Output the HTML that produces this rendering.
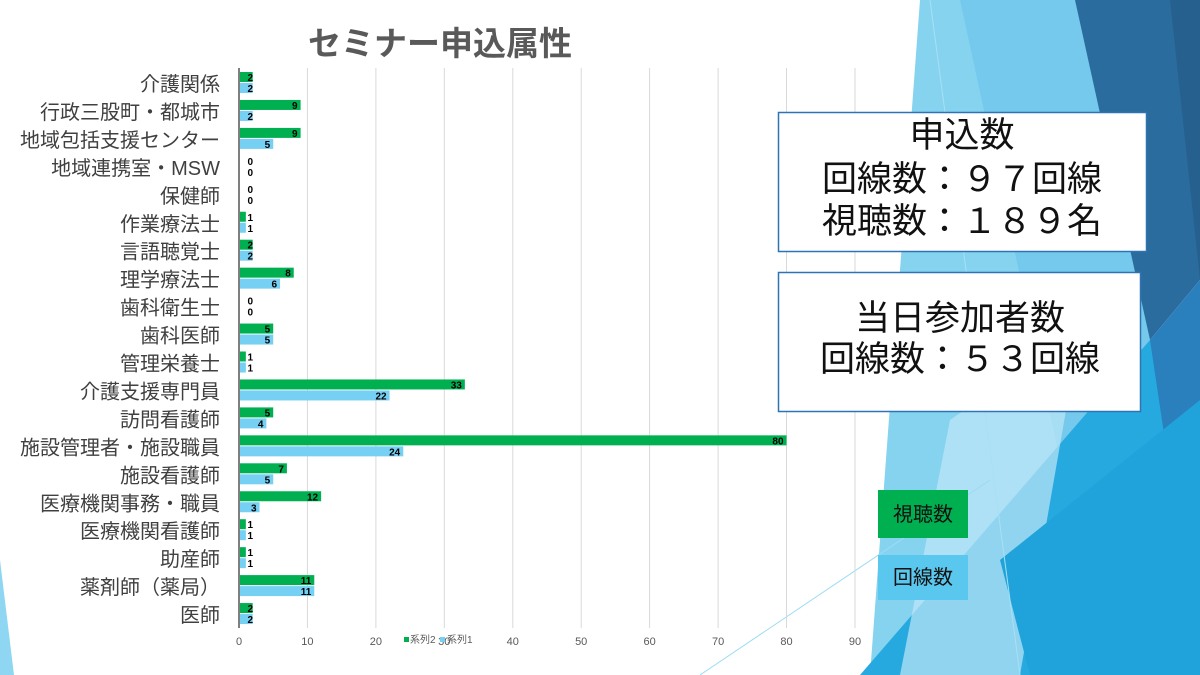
<!DOCTYPE html>
<html><head><meta charset="utf-8"><style>
body{margin:0;width:1200px;height:675px;overflow:hidden;background:#fff;font-family:"Liberation Sans","Noto Sans CJK JP",sans-serif}
</style></head><body>
<svg width="1200" height="675" xmlns="http://www.w3.org/2000/svg" style="position:absolute;left:0;top:0" font-family="Liberation Sans, Noto Sans CJK JP, sans-serif">
<polygon points="0,560 14,675 0,675" fill="#8fd6f2"/>
<polygon points="920,0 1080,0 1150,340 1010,675 870,675" fill="#86d3f0"/>
<polygon points="960,0 1080,0 1150,340 1060,460" fill="#74c9ec"/>
<polygon points="1075,0 1200,0 1200,280 1150,340" fill="#2b6c9f"/>
<polygon points="1170,0 1200,0 1200,280" fill="#26608f"/>
<polygon points="1150,340 1200,280 1200,675 1090,675" fill="#2a7fbd"/>
<polygon points="860,675 1150,340 1200,675" fill="#26a9df"/>
<polygon points="950,420 1080,330 1020,675 900,675" fill="#bfe7f7" opacity="0.7"/>
<polygon points="1000,560 1200,400 1200,675 1030,675" fill="#1fa3da"/>
<line x1="700" y1="675" x2="990" y2="480" stroke="#9adcf4" stroke-width="1"/>
<line x1="930" y1="0" x2="1020" y2="675" stroke="#a8e0f5" stroke-width="1"/>
<text x="440" y="55" font-size="33" font-weight="bold" fill="#595959" text-anchor="middle">セミナー申込属性</text>
<g stroke="#d9d9d9" stroke-width="1">
<line x1="307.4" y1="68" x2="307.4" y2="628"/><line x1="375.9" y1="68" x2="375.9" y2="628"/><line x1="444.3" y1="68" x2="444.3" y2="628"/><line x1="512.8" y1="68" x2="512.8" y2="628"/><line x1="581.2" y1="68" x2="581.2" y2="628"/><line x1="649.6" y1="68" x2="649.6" y2="628"/><line x1="718.1" y1="68" x2="718.1" y2="628"/><line x1="786.5" y1="68" x2="786.5" y2="628"/><line x1="855" y1="68" x2="855" y2="628"/>
</g>
<g font-size="11" fill="#595959" text-anchor="middle">
<text x="239" y="645">0</text><text x="307.4" y="645">10</text><text x="375.9" y="645">20</text><text x="444.3" y="645">30</text><text x="512.8" y="645">40</text><text x="581.2" y="645">50</text><text x="649.6" y="645">60</text><text x="718.1" y="645">70</text><text x="786.5" y="645">80</text><text x="855" y="645">90</text>
</g>
<g font-size="10" fill="#595959"><rect x="404" y="637" width="5" height="5" fill="#00b050"/><text x="410" y="643">系列2</text><rect x="440" y="637" width="5" height="5" fill="#75d0f3"/><text x="447" y="643">系列1</text></g>
<g id="bars"></g>
<line x1="239" y1="68" x2="239" y2="628" stroke="#7f7f7f" stroke-width="2"/>
<rect x="778.5" y="112.5" width="368" height="139" fill="#fff" stroke="#2e74b5" stroke-width="1.5"/>
<g font-size="35" fill="#111" text-anchor="middle">
<text x="962" y="147">申込数</text>
<text x="962" y="191">回線数：９７回線</text>
<text x="962" y="233">視聴数：１８９名</text>
</g>
<rect x="778.5" y="272.5" width="362" height="139" fill="#fff" stroke="#2e74b5" stroke-width="1.5"/>
<g font-size="35" fill="#111" text-anchor="middle">
<text x="960" y="330">当日参加者数</text>
<text x="960" y="371">回線数：５３回線</text>
</g>
<rect x="878" y="490" width="90" height="48" fill="#00b050"/>
<text x="923" y="521" font-size="20" text-anchor="middle" fill="#111">視聴数</text>
<rect x="878" y="555" width="90" height="45" fill="#5ac8ee"/>
<text x="923" y="584" font-size="20" text-anchor="middle" fill="#111">回線数</text>
</svg>
<script>
var d=[["介護関係",2,2],["行政三股町・都城市",9,2],["地域包括支援センター",9,5],["地域連携室・MSW",0,0],["保健師",0,0],["作業療法士",1,1],["言語聴覚士",2,2],["理学療法士",8,6],["歯科衛生士",0,0],["歯科医師",5,5],["管理栄養士",1,1],["介護支援専門員",33,22],["訪問看護師",5,4],["施設管理者・施設職員",80,24],["施設看護師",7,5],["医療機関事務・職員",12,3],["医療機関看護師",1,1],["助産師",1,1],["薬剤師（薬局）",11,11],["医師",2,2]];
var s="",k=6.844;
d.forEach(function(r,i){var t=72+27.95*i;
s+='<text x="220" y="'+(t+19)+'" font-size="20" fill="#404040" text-anchor="end">'+r[0]+'</text>';
[[r[1],t,"#00b050"],[r[2],t+11,"#75d0f3"]].forEach(function(b){var w=b[0]*k;
if(w>0)s+='<rect x="239" y="'+b[1]+'" width="'+w+'" height="10" fill="'+b[2]+'"/>';
var x=Math.max(239+w-3,253);
s+='<text x="'+x+'" y="'+(b[1]+9)+'" font-size="10" font-weight="bold" fill="#000" text-anchor="end">'+b[0]+'</text>';});});
document.getElementById("bars").innerHTML=s;
</script>
</body></html>
